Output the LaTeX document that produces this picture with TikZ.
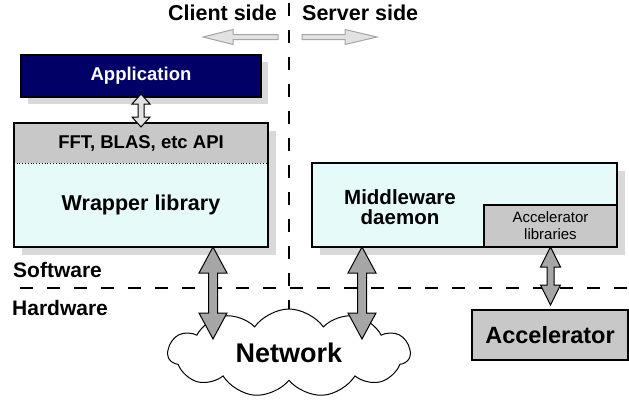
\documentclass[tikz,border=0pt]{standalone}
\usepackage{fontspec}
\setmainfont{Liberation Sans}
\usepackage{xcolor}
\usepackage{tikz}
\usetikzlibrary{positioning, shapes.symbols, shadows, calc}
\definecolor{appnavy}{RGB}{0,0,102}
\definecolor{apigray}{RGB}{200,200,200}
\definecolor{libcyan}{RGB}{230,250,250}
\definecolor{shadegray}{RGB}{217,217,217}
\definecolor{pipegray}{RGB}{166,166,166}
\definecolor{sidefill}{RGB}{226,226,226}
\definecolor{sideedge}{RGB}{165,165,165}

% vertical two-headed block arrow: top, bottom, shaft half, head half, head length, fill
\newcommand{\twoway}[6]{%
  \path[draw=black, line width=1pt, fill=#6, line join=miter]
    let \p1=(#1), \p2=(#2) in
    (\x1,\y1) -- (\x1+#4,\y1-#5) -- (\x1+#3,\y1-#5) -- (\x1+#3,\y2+#5)
    -- (\x1+#4,\y2+#5) -- (\x1,\y2) -- (\x1-#4,\y2+#5) -- (\x1-#3,\y2+#5)
    -- (\x1-#3,\y1-#5) -- (\x1-#4,\y1-#5) -- cycle;}

\begin{document}
\begin{tikzpicture}[x=1pt, y=-1pt,
  every node/.style={font=\bfseries},
  box/.style={rectangle, draw=black, line width=1.2pt, inner sep=0pt,
              outer sep=0pt, align=center},
  shade/.style={drop shadow={shadow xshift=#1, shadow yshift=-#1,
                fill=shadegray, opacity=1}},
  shade/.default=8pt,
  sidelabel/.style={font=\fontsize{21.5}{24}\selectfont\bfseries, inner sep=0pt},
  layerlabel/.style={font=\fontsize{21}{24}\selectfont\bfseries, inner sep=0pt},
  divider/.style={line width=2.5pt, dash pattern=on 13pt off 14pt},
  sidearrow/.style={draw=sideedge, fill=sidefill, line width=1pt},
]
\useasboundingbox (0,0) rectangle (629,402);

% ── Dividers ──
\draw[divider] (20,288) -- (629,288);
\draw[divider] (289,3) -- (289,325);

% ── Client / server headings ──
\node[sidelabel, anchor=base east] (client) at (277,20) {Client side};
\node[sidelabel, anchor=base west] (server) at (302,20) {Server side};
\coordinate (cltail) at (278,37);
\coordinate (srtail) at (302,37);
\draw[sidearrow] (cltail) ++(0,-2.5) -- ++(-45,0) -- ++(0,-5) -- ++(-30,7.5)
  -- ++(30,7.5) -- ++(0,-5) -- ++(45,0) -- cycle;
\draw[sidearrow] (srtail) ++(0,-2.5) -- ++(43,0) -- ++(0,-5) -- ++(32,7.5)
  -- ++(-32,7.5) -- ++(0,-5) -- ++(-43,0) -- cycle;

% ── Client stack ──
\node[box, shade=7pt, fill=appnavy, text=white, minimum width=240pt,
      minimum height=42pt, font=\fontsize{18.5}{20}\selectfont\bfseries]
      (app) at (141,76) {Application};
\node[box, shade, fill=libcyan, minimum width=254pt, minimum height=124pt]
      (wrapper) at (141,185) {};
\node[rectangle, fill=apigray, inner sep=0pt, minimum width=254pt,
      minimum height=40pt, anchor=north,
      font=\fontsize{18.5}{20}\selectfont\bfseries]
      (api) at (wrapper.north) {FFT, BLAS, etc API};
\draw[line width=1.2pt] (wrapper.north west) rectangle (wrapper.south east);
\draw[dotted, line width=0.8pt] (api.south west) -- (api.south east);
\node[font=\fontsize{21.5}{24}\selectfont\bfseries] (wraplabel)
      at ($(api.south)!0.5!(wrapper.south)$) {Wrapper library};

% ── Server stack ──
\node[box, shade, fill=libcyan, minimum width=305pt, minimum height=84pt]
      (mw) at (464.5,205) {};
\node[box, fill=apigray, anchor=south east, minimum width=133pt,
      minimum height=42pt, font=\fontsize{15}{17}\selectfont]
      (acclib) at (mw.south east) {Accelerator\\libraries};
\node[align=center, font=\fontsize{20.5}{20}\selectfont\bfseries]
      (mwlabel) at (400,207) {Middleware\\daemon};

% ── Software / hardware ──
\node[layerlabel, anchor=base west] (sw) at (13,277) {Software};
\node[layerlabel, anchor=base west] (hw) at (12,315) {Hardware};

% ── Hardware ──
\node[box, fill=apigray, minimum width=156pt, minimum height=50pt,
      font=\fontsize{23.5}{26}\selectfont\bfseries] (accel) at (550,335) {Accelerator};
\node[cloud, draw, fill=white, line width=1pt, cloud puffs=11,
      cloud puff arc=110, aspect=2.8, minimum width=242pt, minimum height=88pt,
      inner sep=0pt, font=\fontsize{27}{30}\selectfont\bfseries]
      (net) at (289,353) {Network};

% ── Links ──
\coordinate (pipeL) at (213,339);
\coordinate (pipeR) at (362,339);
\twoway{[yshift=3pt]app.south}{[yshift=-4pt]wrapper.north}{3pt}{9pt}{10pt}{sidefill}
\twoway{wrapper.south -| pipeL}{pipeL}{4.5pt}{14pt}{26pt}{pipegray}
\twoway{mw.south -| pipeR}{pipeR}{4.5pt}{14pt}{26pt}{pipegray}
\twoway{acclib.south}{[yshift=5pt]accel.north}{3.5pt}{10pt}{20pt}{pipegray}

\end{tikzpicture}
\end{document}
